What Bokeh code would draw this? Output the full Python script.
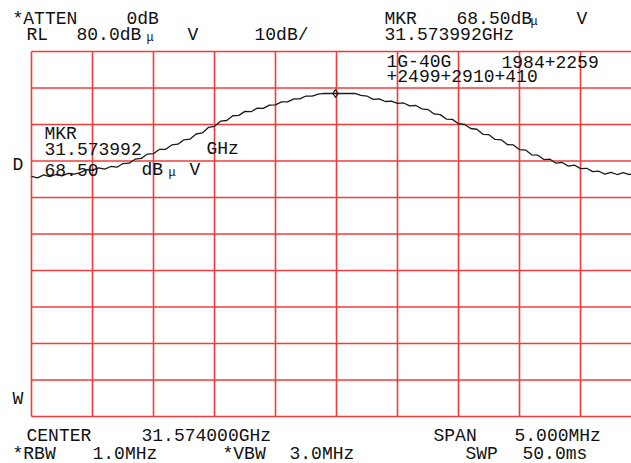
from bokeh.plotting import figure
from bokeh.models import Label, Range1d
from bokeh.embed import file_html
from bokeh.resources import INLINE

# --- data ---
# frequency offset from centre (MHz), centre = 31.574000 GHz, span 5 MHz
freq_offset_mhz = [
    -2.50, -2.45, -2.40, -2.35, -2.30, -2.25, -2.20, -2.15, -2.10, -2.05,
    -2.00, -1.95, -1.90, -1.85, -1.80, -1.75, -1.70, -1.65, -1.60, -1.55,
    -1.50, -1.45, -1.40, -1.35, -1.30, -1.25, -1.20, -1.15, -1.10, -1.05,
    -1.00, -0.95, -0.90, -0.85, -0.80, -0.75, -0.70, -0.65, -0.60, -0.55,
    -0.50, -0.45, -0.40, -0.35, -0.30, -0.25, -0.20, -0.15, -0.10, -0.05,
    0.00, 0.05, 0.10, 0.15, 0.20, 0.25, 0.30, 0.35, 0.40, 0.45,
    0.50, 0.55, 0.60, 0.65, 0.70, 0.75, 0.80, 0.85, 0.90, 0.95,
    1.00, 1.05, 1.10, 1.15, 1.20, 1.25, 1.30, 1.35, 1.40, 1.45,
    1.50, 1.55, 1.60, 1.65, 1.70, 1.75, 1.80, 1.85, 1.90, 1.95,
    2.00, 2.05, 2.10, 2.15, 2.20, 2.25, 2.30, 2.35, 2.40, 2.45,
]
level_db = [
    45.8, 45.4, 46.2, 45.7, 46.3, 45.9, 46.6, 46.4, 46.8, 47.6,
    47.5, 48.1, 47.8, 48.5, 48.3, 49.3, 49.4, 50.5, 50.7, 51.9,
    52.0, 53.2, 53.2, 54.4, 54.6, 55.8, 56.0, 57.4, 57.7, 59.2,
    59.5, 60.9, 61.1, 62.4, 62.5, 63.6, 63.5, 64.5, 64.4, 65.3,
    65.4, 66.2, 66.2, 67.0, 67.0, 67.8, 67.8, 68.3, 68.5, 68.5,
    68.5, 68.5, 68.5, 68.5, 68.0, 67.8, 66.9, 67.0, 66.3, 66.4,
    65.8, 65.9, 65.1, 65.2, 64.3, 64.1, 62.9, 62.7, 61.5, 61.4,
    60.2, 60.0, 58.9, 58.7, 57.3, 57.2, 55.9, 55.8, 54.5, 54.4,
    53.1, 53.0, 51.7, 51.6, 50.4, 50.5, 49.4, 49.6, 48.6, 48.9,
    47.9, 48.0, 47.1, 47.2, 46.4, 46.9, 46.3, 46.8, 46.3, 46.6,
]
marker_offset_mhz = [-0.008]
marker_db = [68.5]
# graticule: 10 divisions of 0.5 MHz, 10 divisions of 10 dB below RL 80 dB
x_grid_ticks = [-2.5, -2.0, -1.5, -1.0, -0.5, 0.0, 0.5, 1.0, 1.5, 2.0, 2.5]
y_grid_ticks = [-20, -10, 0, 10, 20, 30, 40, 50, 60, 70, 80]

FONT = "Liberation Mono"
RED = "#f03c3c"
PX_PER_MHZ = 122.0
PX_PER_DB = 3.65


def X(px):
    return -2.5 + (px - 31) / PX_PER_MHZ


def Y(py):
    return 80 - (py - 51) / PX_PER_DB


W, H = 631, 463
p = figure(width=W, height=H, output_backend="svg", toolbar_location=None,
           x_range=Range1d(X(0), X(W)), y_range=Range1d(Y(H), Y(0)),
           x_axis_location=None, y_axis_location=None,
           min_border=0)
p.outline_line_color = None
p.background_fill_color = "white"
p.border_fill_color = "white"
p.xgrid.visible = False
p.ygrid.visible = False

y_lo, y_hi = y_grid_ticks[0], y_grid_ticks[-1]
x_lo, x_hi = x_grid_ticks[0], x_grid_ticks[-1]
p.segment(x0=x_grid_ticks, y0=[y_lo] * len(x_grid_ticks),
          x1=x_grid_ticks, y1=[y_hi] * len(x_grid_ticks),
          line_color=RED, line_width=1.6)
p.segment(x0=[x_lo] * len(y_grid_ticks), y0=y_grid_ticks,
          x1=[x_hi] * len(y_grid_ticks), y1=y_grid_ticks,
          line_color=RED, line_width=1.6)

p.line(freq_offset_mhz, level_db, line_color="#1a1a1a", line_width=1.3)
p.scatter(marker_offset_mhz, marker_db, marker="diamond", size=8,
          line_color="#1a1a1a", fill_color=None, line_width=1.2)


def lab(text, px, py, size="18px"):
    p.add_layout(Label(x=X(px), y=Y(py), text=text, text_font=FONT,
                       text_font_size=size, text_baseline="middle",
                       text_align="left", text_color="#111111"))


def mu(px, py):
    lab("μ", px, py + 3, "12px")


# header
lab("*ATTEN", 12, 18)
lab("0dB", 126, 18)
lab("MKR", 384, 18)
lab("68.50dB", 456, 18)
mu(530, 18)
lab("V", 576, 18)
lab("RL", 26, 34)
lab("80.0dB", 76, 34)
mu(146, 34)
lab("V", 187, 34)
lab("10dB/", 254, 34)
lab("31.573992GHz", 384, 34)
# inside the graticule
lab("1G-40G", 386, 61)
lab("1984+2259", 501, 61)
lab("+2499+2910+410", 386, 75)
lab("MKR", 44, 133)
lab("31.573992", 44, 148)
lab("GHz", 206, 148)
lab("68.50", 44, 169)
lab("dB", 141, 169)
mu(168, 169)
lab("V", 189, 169)
lab("D", 12, 164)
lab("W", 12, 398)
# footer
lab("CENTER", 26, 435)
lab("31.574000GHz", 141, 435)
lab("SPAN", 433, 435)
lab("5.000MHz", 514, 435)
lab("*RBW", 12, 453)
lab("1.0MHz", 92, 453)
lab("*VBW", 222, 453)
lab("3.0MHz", 289, 453)
lab("SWP", 465, 453)
lab("50.0ms", 522, 453)

open("out.html", "w").write(file_html(p, INLINE))
